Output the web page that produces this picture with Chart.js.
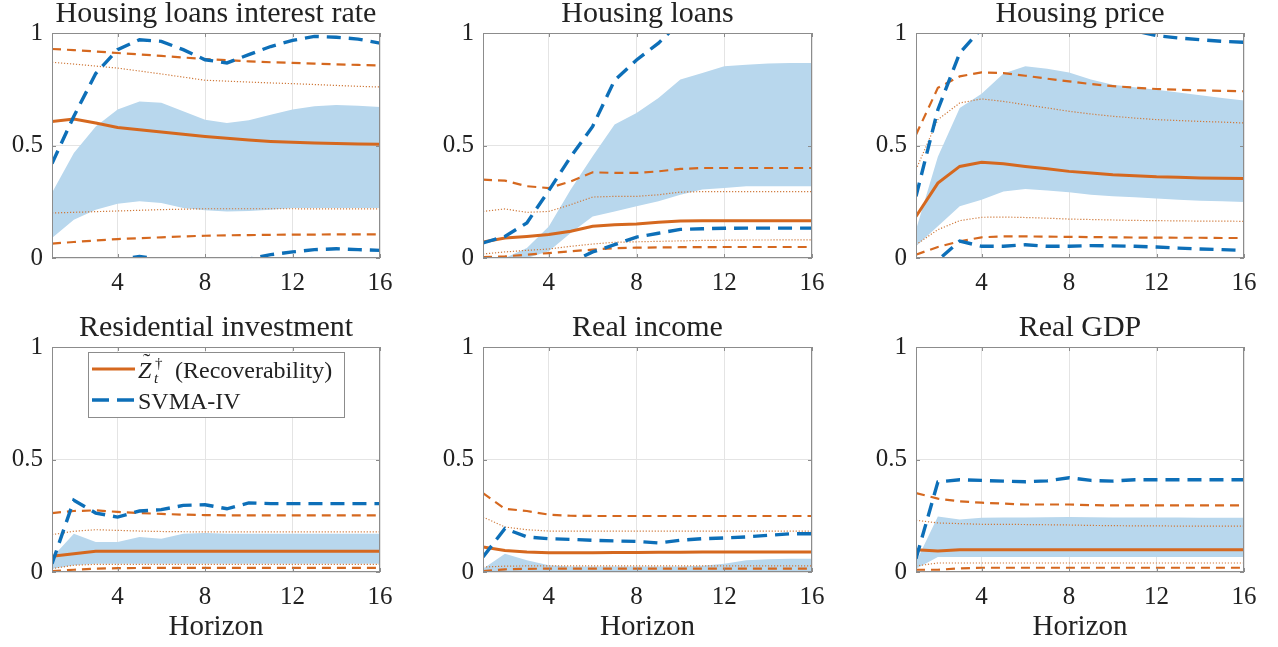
<!DOCTYPE html>
<html>
<head>
<meta charset="utf-8">
<script src="https://cdn.jsdelivr.net/npm/chart.js@4.4.1/dist/chart.umd.min.js"></script>
<style>
  html, body { margin: 0; padding: 0; background: #ffffff; }
  #wrap { position: relative; width: 1278px; height: 647px; overflow: hidden; background: #ffffff; }
  .cell { position: absolute; }
</style>
</head>
<body>
<div id="wrap"></div>
<script>
// ---- horizons and axis ticks ----
const horizons = [1, 2, 3, 4, 5, 6, 7, 8, 9, 10, 11, 12, 13, 14, 15, 16];
const xTicks = [4, 8, 12, 16];
const yTicks = [0, 0.5, 1];

const panelTitles = ['Housing loans interest rate', 'Housing loans', 'Housing price',
                     'Residential investment', 'Real income', 'Real GDP'];

// ---- Housing loans interest rate ----
const rateZ      = [0.607,0.618,0.600,0.580,0.570,0.560,0.550,0.540,0.532,0.524,0.518,0.514,0.511,0.509,0.507,0.505];
const rateZ90Hi  = [0.929,0.924,0.918,0.911,0.905,0.898,0.891,0.884,0.879,0.874,0.870,0.867,0.864,0.861,0.858,0.856];
const rateZ90Lo  = [0.064,0.071,0.078,0.084,0.088,0.092,0.096,0.099,0.101,0.102,0.103,0.104,0.104,0.105,0.105,0.105];
const rateZ68Hi  = [0.870,0.862,0.853,0.844,0.831,0.818,0.804,0.790,0.786,0.782,0.778,0.775,0.771,0.767,0.763,0.760];
const rateZ68Lo  = [0.200,0.203,0.206,0.209,0.212,0.215,0.217,0.219,0.219,0.219,0.219,0.219,0.218,0.218,0.218,0.218];
const rateSv68Hi = [0.290,0.467,0.585,0.660,0.696,0.690,0.652,0.615,0.600,0.612,0.637,0.660,0.674,0.680,0.677,0.671];
const rateSv68Lo = [0.089,0.170,0.215,0.241,0.252,0.244,0.222,0.212,0.207,0.209,0.215,0.222,0.222,0.222,0.222,0.222];
const rateSv90Hi = [0.420,0.630,0.820,0.926,0.970,0.963,0.926,0.881,0.867,0.904,0.940,0.967,0.985,0.981,0.973,0.955];
const rateSv90Lo = [-0.300,-0.160,-0.060,-0.008,0.007,-0.007,-0.050,-0.060,-0.040,-0.005,0.015,0.027,0.037,0.041,0.037,0.034];

// ---- Housing loans ----
const loanZ      = [0.071,0.089,0.096,0.104,0.119,0.141,0.148,0.151,0.159,0.164,0.166,0.166,0.166,0.166,0.166,0.166];
const loanZ90Hi  = [0.348,0.344,0.319,0.311,0.340,0.381,0.378,0.378,0.385,0.396,0.400,0.400,0.400,0.400,0.400,0.400];
const loanZ90Lo  = [0.004,0.007,0.015,0.022,0.030,0.037,0.044,0.046,0.047,0.048,0.048,0.049,0.049,0.049,0.049,0.049];
const loanZ68Hi  = [0.207,0.218,0.203,0.207,0.237,0.271,0.274,0.274,0.281,0.293,0.295,0.295,0.295,0.295,0.295,0.295];
const loanZ68Lo  = [0.018,0.027,0.034,0.040,0.052,0.062,0.070,0.072,0.074,0.076,0.078,0.079,0.080,0.080,0.081,0.081];
const loanSv68Hi = [0.000,0.000,0.045,0.140,0.304,0.452,0.593,0.644,0.711,0.793,0.822,0.852,0.859,0.864,0.867,0.867];
const loanSv68Lo = [0.000,0.000,0.000,0.030,0.111,0.185,0.207,0.230,0.252,0.281,0.304,0.311,0.319,0.319,0.319,0.319];
const loanSv90Hi = [0.067,0.096,0.156,0.300,0.450,0.585,0.790,0.880,0.955,1.050,1.120,1.180,1.220,1.250,1.270,1.280];
const loanSv90Lo = [-0.140,-0.150,-0.130,-0.090,-0.020,0.027,0.059,0.093,0.110,0.127,0.130,0.132,0.133,0.133,0.133,0.133];

// ---- Housing price ----
const priceZ      = [0.185,0.333,0.407,0.425,0.419,0.407,0.397,0.385,0.378,0.370,0.366,0.361,0.359,0.356,0.354,0.353];
const priceZ90Hi  = [0.548,0.756,0.807,0.825,0.822,0.810,0.797,0.785,0.773,0.764,0.757,0.751,0.748,0.745,0.743,0.741];
const priceZ90Lo  = [0.015,0.049,0.074,0.092,0.096,0.096,0.095,0.094,0.093,0.092,0.091,0.091,0.090,0.090,0.089,0.089];
const priceZ68Hi  = [0.393,0.615,0.689,0.707,0.696,0.681,0.667,0.652,0.640,0.630,0.622,0.615,0.611,0.607,0.604,0.600];
const priceZ68Lo  = [0.059,0.126,0.166,0.181,0.182,0.180,0.177,0.173,0.171,0.169,0.167,0.166,0.165,0.164,0.164,0.163];
const priceSv68Hi = [0.126,0.450,0.667,0.730,0.820,0.852,0.841,0.825,0.793,0.770,0.759,0.748,0.736,0.723,0.711,0.700];
const priceSv68Lo = [0.052,0.141,0.230,0.259,0.296,0.307,0.300,0.292,0.281,0.274,0.270,0.264,0.259,0.255,0.252,0.249];
const priceSv90Hi = [0.274,0.659,0.911,1.020,1.080,1.110,1.120,1.100,1.080,1.050,1.010,0.988,0.978,0.970,0.963,0.959];
const priceSv90Lo = [-0.150,-0.010,0.075,0.052,0.052,0.059,0.052,0.052,0.055,0.054,0.052,0.049,0.044,0.040,0.037,0.034];

// ---- Residential investment ----
const resZ      = [0.070,0.081,0.092,0.092,0.092,0.092,0.092,0.092,0.092,0.092,0.092,0.092,0.092,0.092,0.092,0.092];
const resZ90Hi  = [0.262,0.271,0.274,0.267,0.262,0.258,0.255,0.253,0.252,0.252,0.252,0.252,0.252,0.252,0.252,0.252];
const resZ90Lo  = [0.004,0.010,0.015,0.017,0.018,0.018,0.018,0.018,0.018,0.018,0.018,0.018,0.018,0.018,0.018,0.018];
const resZ68Hi  = [0.166,0.181,0.188,0.185,0.182,0.180,0.179,0.178,0.178,0.178,0.178,0.178,0.178,0.178,0.178,0.178];
const resZ68Lo  = [0.015,0.030,0.034,0.034,0.034,0.034,0.034,0.034,0.034,0.034,0.034,0.034,0.034,0.034,0.034,0.034];
const resSv68Hi = [0.064,0.170,0.133,0.133,0.156,0.148,0.170,0.173,0.170,0.170,0.170,0.170,0.170,0.170,0.170,0.170];
const resSv68Lo = [0.015,0.030,0.037,0.037,0.037,0.037,0.037,0.037,0.037,0.037,0.037,0.037,0.037,0.037,0.037,0.037];
const resSv90Hi = [0.037,0.319,0.262,0.244,0.271,0.277,0.296,0.299,0.281,0.307,0.304,0.304,0.304,0.304,0.304,0.304];

// ---- Real income ----
const incZ      = [0.111,0.096,0.089,0.086,0.086,0.086,0.087,0.087,0.088,0.088,0.089,0.089,0.089,0.089,0.089,0.089];
const incZ90Hi  = [0.351,0.281,0.271,0.255,0.250,0.249,0.249,0.249,0.249,0.249,0.249,0.249,0.249,0.249,0.249,0.249];
const incZ90Lo  = [0.004,0.012,0.014,0.015,0.015,0.015,0.015,0.015,0.015,0.015,0.015,0.015,0.015,0.015,0.015,0.015];
const incZ68Hi  = [0.244,0.200,0.188,0.182,0.182,0.182,0.182,0.182,0.182,0.182,0.182,0.182,0.182,0.182,0.182,0.182];
const incZ68Lo  = [0.022,0.026,0.027,0.027,0.027,0.027,0.027,0.027,0.027,0.027,0.027,0.027,0.027,0.027,0.027,0.027];
const incSv68Hi = [0.015,0.081,0.052,0.030,0.025,0.025,0.025,0.025,0.025,0.025,0.028,0.037,0.052,0.057,0.059,0.059];
const incSv68Lo = [0.000,0.000,0.000,0.000,0.000,0.000,0.000,0.000,0.000,0.000,0.000,0.000,0.000,0.000,0.000,0.000];
const incSv90Hi = [0.067,0.193,0.156,0.148,0.145,0.141,0.138,0.136,0.129,0.141,0.148,0.151,0.156,0.163,0.170,0.170];

// ---- Real GDP ----
const gdpZ      = [0.099,0.093,0.099,0.099,0.099,0.099,0.099,0.099,0.099,0.099,0.099,0.099,0.099,0.099,0.099,0.099];
const gdpZ90Hi  = [0.351,0.326,0.314,0.308,0.304,0.300,0.300,0.300,0.297,0.296,0.296,0.296,0.296,0.296,0.296,0.296];
const gdpZ90Lo  = [0.010,0.010,0.016,0.019,0.019,0.019,0.019,0.019,0.019,0.019,0.019,0.019,0.019,0.019,0.019,0.019];
const gdpZ68Hi  = [0.230,0.218,0.215,0.212,0.212,0.211,0.210,0.209,0.207,0.206,0.205,0.205,0.204,0.204,0.204,0.204];
const gdpZ68Lo  = [0.027,0.040,0.040,0.040,0.040,0.040,0.040,0.040,0.040,0.040,0.040,0.040,0.040,0.040,0.040,0.040];
const gdpSv68Hi = [0.044,0.247,0.233,0.241,0.242,0.242,0.243,0.244,0.243,0.242,0.242,0.242,0.242,0.241,0.241,0.241];
const gdpSv68Lo = [0.015,0.067,0.067,0.067,0.067,0.067,0.067,0.067,0.067,0.067,0.067,0.067,0.067,0.067,0.067,0.067];
const gdpSv90Hi = [0.059,0.400,0.410,0.407,0.404,0.401,0.405,0.419,0.407,0.404,0.410,0.410,0.410,0.410,0.410,0.410];

const panelSeries = [
  { z: rateZ,  z90: [rateZ90Lo, rateZ90Hi],   z68: [rateZ68Lo, rateZ68Hi],   band: [rateSv68Lo, rateSv68Hi],   svma: [rateSv90Lo, rateSv90Hi] },
  { z: loanZ,  z90: [loanZ90Lo, loanZ90Hi],   z68: [loanZ68Lo, loanZ68Hi],   band: [loanSv68Lo, loanSv68Hi],   svma: [loanSv90Lo, loanSv90Hi] },
  { z: priceZ, z90: [priceZ90Lo, priceZ90Hi], z68: [priceZ68Lo, priceZ68Hi], band: [priceSv68Lo, priceSv68Hi], svma: [priceSv90Lo, priceSv90Hi] },
  { z: resZ,   z90: [resZ90Lo, resZ90Hi],     z68: [resZ68Lo, resZ68Hi],     band: [resSv68Lo, resSv68Hi],     svma: [resSv90Hi] },
  { z: incZ,   z90: [incZ90Lo, incZ90Hi],     z68: [incZ68Lo, incZ68Hi],     band: [incSv68Lo, incSv68Hi],     svma: [incSv90Hi] },
  { z: gdpZ,   z90: [gdpZ90Lo, gdpZ90Hi],     z68: [gdpZ68Lo, gdpZ68Hi],     band: [gdpSv68Lo, gdpSv68Hi],     svma: [gdpSv90Hi] }
];

// ---- styling ----
const ORANGE = '#d5681f';
const ORANGE_DOT = '#cf7a3c';
const BLUE = '#0d6fb8';
const BAND = '#b8d7ed';
const FRAME = '#8c8c8c';
const GRID = '#e4e4e4';
const TEXT = '#222222';
const SERIF = '"Liberation Serif", "Times New Roman", serif';

// panel boxes on the page (canvas rectangle and plot-area margins)
const cells = [
  { left: 0,   top: 0,   width: 420, height: 300, yAxisW: 52, padTop: 33, padRight: 40, xAxisH: 42 },
  { left: 420, top: 0,   width: 420, height: 300, yAxisW: 63, padTop: 33, padRight: 28, xAxisH: 42 },
  { left: 840, top: 0,   width: 438, height: 300, yAxisW: 76, padTop: 33, padRight: 34, xAxisH: 42 },
  { left: 0,   top: 300, width: 420, height: 347, yAxisW: 52, padTop: 47, padRight: 40, xAxisH: 75, horizon: true, legend: true },
  { left: 420, top: 300, width: 420, height: 347, yAxisW: 63, padTop: 47, padRight: 28, xAxisH: 75, horizon: true },
  { left: 840, top: 300, width: 438, height: 347, yAxisW: 76, padTop: 47, padRight: 34, xAxisH: 75, horizon: true }
];

function pts(values) {
  return horizons.map((h, i) => ({ x: h, y: values[i] }));
}

function buildDatasets(s) {
  const base = { pointRadius: 0, tension: 0, clip: 0, fill: false, borderCapStyle: 'butt' };
  const sets = [];
  s.svma.forEach(v => sets.push({ ...base, data: pts(v), borderColor: BLUE, borderWidth: 3.4, borderDash: [14, 8] }));
  sets.push({ ...base, data: pts(s.z), borderColor: ORANGE, borderWidth: 3 });
  s.z90.forEach(v => sets.push({ ...base, data: pts(v), borderColor: ORANGE, borderWidth: 2.2, borderDash: [9, 6] }));
  s.z68.forEach(v => sets.push({ ...base, data: pts(v), borderColor: ORANGE_DOT, borderWidth: 1.2, borderDash: [1.2, 1.8] }));
  // shaded band: lower edge, then upper edge filled down to it
  sets.push({ ...base, data: pts(s.band[0]), borderWidth: 0, borderColor: 'rgba(0,0,0,0)' });
  sets.push({ ...base, data: pts(s.band[1]), borderWidth: 0, borderColor: 'rgba(0,0,0,0)', backgroundColor: BAND, fill: '-1' });
  return sets;
}

// box, inward ticks, panel title and legend
const decorations = {
  id: 'decorations',
  afterDraw(chart, args, opts) {
    const { ctx, chartArea: a, scales: { x, y } } = chart;
    ctx.save();
    ctx.strokeStyle = FRAME;
    ctx.lineWidth = 1;
    ctx.setLineDash([]);
    ctx.strokeRect(Math.round(a.left) + 0.5, Math.round(a.top) + 0.5,
                   Math.round(a.right - a.left) - 1, Math.round(a.bottom - a.top) - 1);
    ctx.beginPath();
    const tl = 4;
    xTicks.forEach(v => {
      const px = Math.round(x.getPixelForValue(v)) + 0.5;
      ctx.moveTo(px, a.bottom); ctx.lineTo(px, a.bottom - tl);
      ctx.moveTo(px, a.top); ctx.lineTo(px, a.top + tl);
    });
    yTicks.forEach(v => {
      const py = Math.round(y.getPixelForValue(v)) + 0.5;
      ctx.moveTo(a.left, py); ctx.lineTo(a.left + tl, py);
      ctx.moveTo(a.right, py); ctx.lineTo(a.right - tl, py);
    });
    ctx.stroke();

    // panel title
    ctx.fillStyle = TEXT;
    ctx.font = '30px ' + SERIF;
    ctx.textAlign = 'center';
    ctx.textBaseline = 'alphabetic';
    ctx.fillText(opts.title, (a.left + a.right) / 2, a.top - 11);

    if (opts.legend) {
      const bx = a.left + 36, by = a.top + 5, bw = 256, bh = 65;
      ctx.fillStyle = '#ffffff';
      ctx.fillRect(bx, by, bw, bh);
      ctx.strokeStyle = FRAME;
      ctx.strokeRect(bx + 0.5, by + 0.5, bw, bh);
      const r1 = by + 17, r2 = by + 48;
      ctx.lineCap = 'butt';
      ctx.strokeStyle = ORANGE; ctx.lineWidth = 3; ctx.setLineDash([]);
      ctx.beginPath(); ctx.moveTo(bx + 4, r1); ctx.lineTo(bx + 47, r1); ctx.stroke();
      ctx.strokeStyle = BLUE; ctx.lineWidth = 3.4; ctx.setLineDash([17, 8]);
      ctx.beginPath(); ctx.moveTo(bx + 4, r2); ctx.lineTo(bx + 47, r2); ctx.stroke();
      ctx.setLineDash([]);
      ctx.fillStyle = TEXT;
      ctx.textAlign = 'left';
      ctx.font = 'italic 24px ' + SERIF;
      ctx.fillText('Z', bx + 50, r1 + 9);
      ctx.font = '22px ' + SERIF;
      ctx.fillText('\u02DC', bx + 55, r1 - 1);
      ctx.font = '15px ' + SERIF;
      ctx.fillText('\u2020', bx + 67, r1 - 1);
      ctx.font = 'italic 15px ' + SERIF;
      ctx.fillText('t', bx + 66, r1 + 14);
      ctx.font = '24px ' + SERIF;
      ctx.fillText('(Recoverability)', bx + 87, r1 + 9);
      ctx.fillText('SVMA-IV', bx + 50, r2 + 9);
    }
    ctx.restore();
  }
};

const wrap = document.getElementById('wrap');
cells.forEach((c, idx) => {
  const div = document.createElement('div');
  div.className = 'cell';
  div.style.left = c.left + 'px';
  div.style.top = c.top + 'px';
  div.style.width = c.width + 'px';
  div.style.height = c.height + 'px';
  const cv = document.createElement('canvas');
  cv.width = c.width; cv.height = c.height;
  cv.style.width = c.width + 'px'; cv.style.height = c.height + 'px';
  div.appendChild(cv);
  wrap.appendChild(div);

  new Chart(cv.getContext('2d'), {
    type: 'line',
    data: { datasets: buildDatasets(panelSeries[idx]) },
    plugins: [decorations],
    options: {
      responsive: false,
      animation: false,
      devicePixelRatio: 1,
      events: [],
      layout: { padding: { top: c.padTop, right: c.padRight, left: 0, bottom: 0 } },
      plugins: {
        legend: { display: false },
        tooltip: { enabled: false },
        decorations: { title: panelTitles[idx], legend: !!c.legend }
      },
      scales: {
        x: {
          type: 'linear', min: 1, max: 16,
          afterBuildTicks: s => { s.ticks = xTicks.map(v => ({ value: v })); },
          afterFit: s => { s.height = c.xAxisH; },
          grid: { color: GRID, lineWidth: 1, drawTicks: false },
          border: { display: false },
          ticks: { padding: 10, color: TEXT, font: { family: SERIF, size: 25 },
                   maxRotation: 0, autoSkip: false, callback: v => String(v) },
          title: { display: !!c.horizon, text: 'Horizon', color: TEXT,
                   font: { family: SERIF, size: 29 }, padding: { top: 0, bottom: 2 } }
        },
        y: {
          type: 'linear', min: 0, max: 1,
          afterBuildTicks: s => { s.ticks = yTicks.map(v => ({ value: v })); },
          afterFit: s => { s.width = c.yAxisW; },
          grid: { color: GRID, lineWidth: 1, drawTicks: false },
          border: { display: false },
          ticks: { padding: 9, color: TEXT, font: { family: SERIF, size: 25 },
                   autoSkip: false, callback: v => String(v) }
        }
      }
    }
  });
});
</script>
</body>
</html>
